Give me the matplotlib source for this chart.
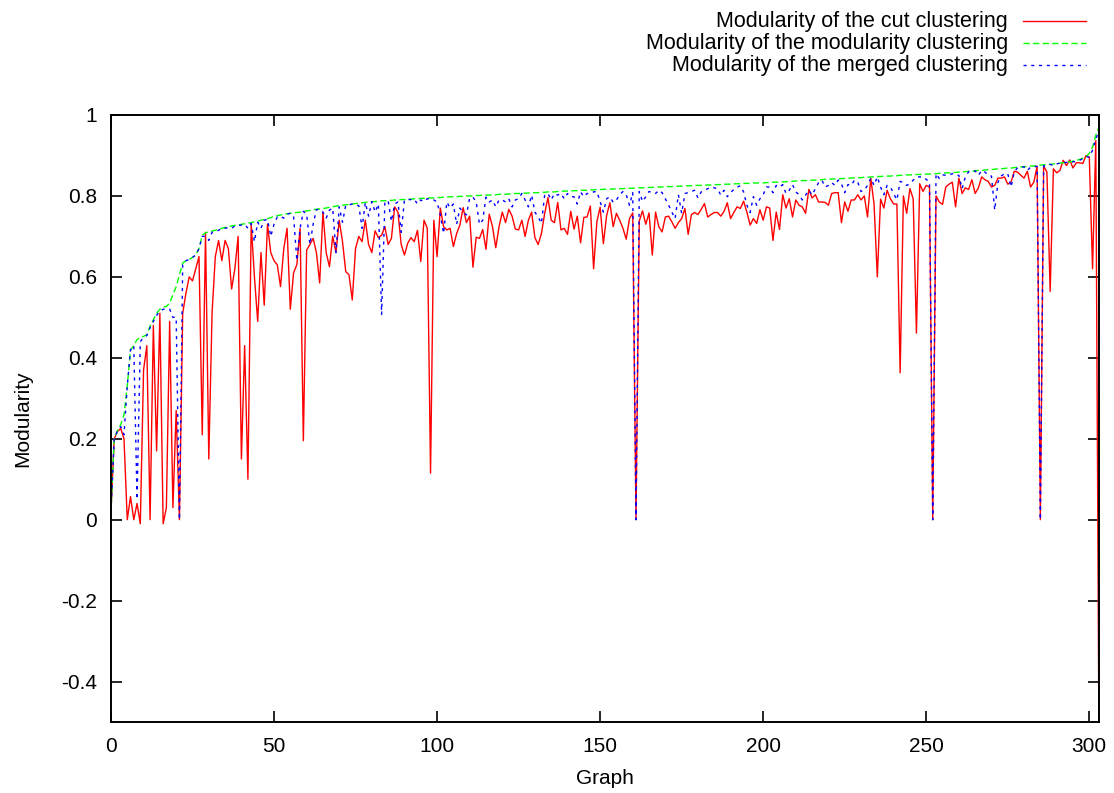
import matplotlib
matplotlib.use("Agg")
import matplotlib.pyplot as plt
from matplotlib.lines import Line2D
import numpy as np

plt.rcParams["font.family"] = ["Liberation Sans", "DejaVu Sans"]

# Modularity of the cut clustering (red)
cut = [
    0.02, 0.2, 0.218, 0.225, 0.2, 0.0, 0.057, 0.0, 0.04, -0.01,
    0.37, 0.43, 0.0, 0.48, 0.17, 0.51, -0.01, 0.03, 0.49, 0.03,
    0.27, 0.0, 0.51, 0.56, 0.6, 0.59, 0.62, 0.65, 0.21, 0.71,
    0.15, 0.51, 0.65, 0.69, 0.64, 0.69, 0.67, 0.57, 0.62, 0.70,
    0.15, 0.43, 0.10, 0.73, 0.6, 0.49, 0.66, 0.53, 0.73, 0.66,
    0.64, 0.63, 0.576, 0.67, 0.72, 0.52, 0.61, 0.63, 0.72, 0.195,
    0.666, 0.68, 0.695, 0.66, 0.585, 0.76, 0.66, 0.625, 0.70, 0.66,
    0.74, 0.687, 0.613, 0.605, 0.543, 0.67, 0.70, 0.687, 0.74, 0.68,
    0.66, 0.714, 0.697, 0.703, 0.724, 0.68, 0.695, 0.773, 0.76, 0.68,
    0.654, 0.683, 0.697, 0.687, 0.715, 0.638, 0.74, 0.72, 0.115, 0.74,
    0.65, 0.77, 0.724, 0.716, 0.72, 0.675, 0.707, 0.728, 0.771, 0.734,
    0.75, 0.624, 0.698, 0.695, 0.717, 0.668, 0.755, 0.724, 0.672, 0.724,
    0.76, 0.734, 0.767, 0.75, 0.718, 0.716, 0.74, 0.70, 0.74, 0.76,
    0.697, 0.68, 0.707, 0.757, 0.796, 0.74, 0.734, 0.784, 0.716, 0.72,
    0.705, 0.762, 0.718, 0.75, 0.684, 0.747, 0.748, 0.775, 0.62, 0.736,
    0.772, 0.682, 0.752, 0.783, 0.724, 0.757, 0.74, 0.72, 0.693, 0.744,
    0.758, 0.0, 0.738, 0.763, 0.73, 0.758, 0.654, 0.76, 0.724, 0.711,
    0.748, 0.75, 0.736, 0.72, 0.734, 0.744, 0.769, 0.705, 0.754, 0.759,
    0.754, 0.767, 0.781, 0.748, 0.754, 0.759, 0.759, 0.75, 0.762, 0.783,
    0.744, 0.759, 0.773, 0.769, 0.787, 0.76, 0.728, 0.744, 0.732, 0.766,
    0.74, 0.773, 0.77, 0.69, 0.76, 0.717, 0.803, 0.77, 0.793, 0.748,
    0.79, 0.777, 0.773, 0.757, 0.816, 0.795, 0.803, 0.785, 0.785, 0.784,
    0.777, 0.806, 0.808, 0.808, 0.734, 0.785, 0.762, 0.79, 0.79, 0.803,
    0.79, 0.80, 0.748, 0.844, 0.78, 0.60, 0.792, 0.77, 0.814, 0.793,
    0.78, 0.78, 0.363, 0.80, 0.757, 0.818, 0.793, 0.461, 0.83, 0.811,
    0.826, 0.822, 0.0, 0.80, 0.785, 0.779, 0.822, 0.829, 0.834, 0.773,
    0.844, 0.806, 0.82, 0.816, 0.84, 0.806, 0.82, 0.847, 0.84, 0.836,
    0.822, 0.826, 0.844, 0.844, 0.847, 0.829, 0.834, 0.861, 0.859, 0.851,
    0.844, 0.861, 0.822, 0.834, 0.873, 0.0, 0.874, 0.859, 0.564, 0.867,
    0.857, 0.863, 0.888, 0.875, 0.889, 0.869, 0.882, 0.882, 0.88, 0.9,
    0.896, 0.62, 0.937, -0.6,
]

# Modularity of the modularity clustering (green)
modul = [
    0.02, 0.20, 0.22, 0.235, 0.26, 0.33, 0.42, 0.43, 0.445, 0.45,
    0.453, 0.457, 0.478, 0.494, 0.51, 0.52, 0.525, 0.527, 0.535, 0.556,
    0.576, 0.605, 0.634, 0.64, 0.643, 0.648, 0.654, 0.67, 0.703, 0.709,
    0.711, 0.713, 0.715, 0.718, 0.72, 0.722, 0.724, 0.726, 0.727, 0.728,
    0.73, 0.731, 0.733, 0.734, 0.736, 0.738, 0.74, 0.742, 0.744, 0.746,
    0.75, 0.751, 0.753, 0.754, 0.756, 0.757, 0.758, 0.759, 0.76, 0.762,
    0.763, 0.764, 0.766, 0.767, 0.768, 0.769, 0.77, 0.772, 0.773, 0.775,
    0.776, 0.777, 0.778, 0.779, 0.78, 0.781, 0.782, 0.783, 0.784, 0.785,
    0.786, 0.786, 0.787, 0.788, 0.788, 0.789, 0.789, 0.79, 0.79, 0.791,
    0.791, 0.792, 0.792, 0.793, 0.793, 0.794, 0.794, 0.795, 0.795, 0.795,
    0.796, 0.796, 0.797, 0.797, 0.798, 0.798, 0.798, 0.799, 0.799, 0.8,
    0.8, 0.8, 0.801, 0.801, 0.802, 0.802, 0.802, 0.803, 0.803, 0.804,
    0.804, 0.804, 0.805, 0.805, 0.806, 0.806, 0.806, 0.807, 0.807, 0.808,
    0.808, 0.808, 0.809, 0.809, 0.81, 0.81, 0.81, 0.811, 0.811, 0.812,
    0.812, 0.812, 0.813, 0.813, 0.814, 0.814, 0.814, 0.815, 0.815, 0.816,
    0.816, 0.816, 0.817, 0.817, 0.817, 0.818, 0.818, 0.818, 0.819, 0.819,
    0.819, 0.82, 0.82, 0.82, 0.821, 0.821, 0.821, 0.822, 0.822, 0.822,
    0.823, 0.823, 0.823, 0.824, 0.824, 0.824, 0.825, 0.825, 0.825, 0.826,
    0.826, 0.826, 0.827, 0.827, 0.827, 0.828, 0.828, 0.828, 0.829, 0.829,
    0.829, 0.83, 0.83, 0.83, 0.831, 0.831, 0.831, 0.832, 0.832, 0.832,
    0.832, 0.833, 0.833, 0.834, 0.834, 0.834, 0.835, 0.835, 0.836, 0.836,
    0.837, 0.837, 0.838, 0.838, 0.838, 0.839, 0.839, 0.84, 0.84, 0.841,
    0.841, 0.842, 0.842, 0.842, 0.843, 0.843, 0.844, 0.844, 0.845, 0.845,
    0.845, 0.846, 0.846, 0.847, 0.847, 0.848, 0.848, 0.849, 0.849, 0.849,
    0.85, 0.85, 0.851, 0.851, 0.852, 0.852, 0.852, 0.853, 0.853, 0.853,
    0.854, 0.854, 0.855, 0.855, 0.856, 0.856, 0.857, 0.857, 0.858, 0.858,
    0.859, 0.859, 0.86, 0.861, 0.861, 0.862, 0.863, 0.863, 0.864, 0.865,
    0.865, 0.866, 0.867, 0.867, 0.868, 0.869, 0.869, 0.87, 0.871, 0.872,
    0.872, 0.873, 0.874, 0.874, 0.875, 0.876, 0.877, 0.877, 0.878, 0.879,
    0.88, 0.881, 0.882, 0.883, 0.884, 0.886, 0.888, 0.89, 0.893, 0.897,
    0.905, 0.92, 0.95, 0.97,
]

# Modularity of the merged clustering (blue)
merged = [
    0.02, 0.2, 0.22, 0.23, 0.21, 0.33, 0.42, 0.43, 0.05, 0.44,
    0.45, 0.455, 0.475, 0.49, 0.505, 0.515, 0.52, 0.52, 0.52, 0.50,
    0.5, 0.0, 0.63, 0.64, 0.643, 0.648, 0.654, 0.67, 0.70, 0.70,
    0.69, 0.71, 0.712, 0.715, 0.72, 0.72, 0.722, 0.72, 0.726, 0.727,
    0.728, 0.73, 0.72, 0.732, 0.687, 0.735, 0.72, 0.74, 0.742, 0.70,
    0.73, 0.748, 0.75, 0.745, 0.755, 0.757, 0.75, 0.64, 0.72, 0.762,
    0.755, 0.68, 0.73, 0.766, 0.767, 0.76, 0.745, 0.765, 0.77, 0.66,
    0.773, 0.735, 0.777, 0.778, 0.78, 0.778, 0.776, 0.72, 0.784, 0.75,
    0.786, 0.76, 0.78, 0.507, 0.785, 0.788, 0.737, 0.78, 0.785, 0.71,
    0.79, 0.791, 0.791, 0.792, 0.78, 0.79, 0.786, 0.793, 0.793, 0.79,
    0.785, 0.753, 0.707, 0.785, 0.77, 0.78, 0.73, 0.77, 0.76, 0.753,
    0.795, 0.797, 0.785, 0.73, 0.74, 0.797, 0.785, 0.79, 0.773, 0.79,
    0.79, 0.785, 0.793, 0.773, 0.79, 0.793, 0.806, 0.79, 0.773, 0.802,
    0.76, 0.748, 0.732, 0.802, 0.806, 0.79, 0.806, 0.802, 0.806, 0.793,
    0.806, 0.798, 0.798, 0.78, 0.81, 0.798, 0.806, 0.806, 0.81, 0.811,
    0.786, 0.76, 0.793, 0.798, 0.784, 0.79, 0.803, 0.811, 0.803, 0.777,
    0.808, 0.0, 0.811, 0.786, 0.798, 0.811, 0.808, 0.806, 0.814, 0.808,
    0.793, 0.777, 0.76, 0.744, 0.803, 0.757, 0.806, 0.808, 0.811, 0.814,
    0.795, 0.81, 0.814, 0.818, 0.822, 0.82, 0.818, 0.802, 0.814, 0.798,
    0.808, 0.816, 0.822, 0.825, 0.81, 0.777, 0.759, 0.798, 0.777, 0.793,
    0.803, 0.822, 0.822, 0.808, 0.826, 0.822, 0.828, 0.806, 0.814, 0.828,
    0.81, 0.803, 0.79, 0.802, 0.814, 0.802, 0.818, 0.833, 0.839, 0.822,
    0.826, 0.833, 0.826, 0.839, 0.83, 0.808, 0.828, 0.826, 0.839, 0.834,
    0.811, 0.814, 0.826, 0.844, 0.826, 0.847, 0.822, 0.803, 0.826, 0.822,
    0.806, 0.79, 0.836, 0.833, 0.826, 0.83, 0.839, 0.847, 0.847, 0.847,
    0.841, 0.834, 0.0, 0.855, 0.843, 0.852, 0.851, 0.852, 0.855, 0.851,
    0.851, 0.818, 0.847, 0.86, 0.859, 0.862, 0.851, 0.863, 0.859, 0.851,
    0.849, 0.765, 0.834, 0.849, 0.855, 0.855, 0.822, 0.859, 0.87, 0.87,
    0.872, 0.863, 0.871, 0.872, 0.873, 0.0, 0.874, 0.877, 0.878, 0.875,
    0.879, 0.881, 0.882, 0.883, 0.884, 0.884, 0.886, 0.888, 0.892, 0.897,
    0.896, 0.913, 0.941, 0.96,
]

labels = [
    "Modularity of the cut clustering",
    "Modularity of the modularity clustering",
    "Modularity of the merged clustering",
]
colors = ["#ff0000", "#00ff00", "#0000ff"]
styles = ["-", (0, (4.5, 2.4)), (0, (2.2, 3.4))]
fs = 15

x = np.arange(len(cut))

fig = plt.figure(figsize=(11.14, 7.93), dpi=100)
ax = fig.add_axes([0.0996, 0.0895, 0.887, 0.7655])

for ys, c, ls in zip([cut, modul, merged], colors, styles):
    ax.plot(x, ys, color=c, linestyle=ls, linewidth=1.0)

ax.set_xlim(0, 303)
ax.set_ylim(-0.5, 1)
ax.set_xticks([0, 50, 100, 150, 200, 250, 300])
ax.set_yticks([-0.4, -0.2, 0, 0.2, 0.4, 0.6, 0.8, 1])
ax.set_yticklabels(["-0.4", "-0.2", "0", "0.2", "0.4", "0.6", "0.8", "1"])
ax.tick_params(direction="in", top=True, right=True, length=8, width=1.2,
               labelsize=fs)
ax.tick_params(axis="x", pad=11)
ax.tick_params(axis="y", pad=10)
for s in ax.spines.values():
    s.set_linewidth(1.4)

ax.set_xlabel("Graph", fontsize=fs, labelpad=9)
ax.set_ylabel("Modularity", fontsize=fs, labelpad=21)

# gnuplot-style key: right-aligned text, sample line after it
for k, (lab, c, ls) in enumerate(zip(labels, colors, styles)):
    yk = 1 - (21 + 22 * k) / 793
    fig.text(1008 / 1114, yk, lab, ha="right", va="center", fontsize=fs + 0.5)
    fig.add_artist(Line2D([1023 / 1114, 1086 / 1114], [yk, yk], color=c,
                          linestyle=ls, linewidth=1.0))

fig.savefig("out.png", dpi=100)
